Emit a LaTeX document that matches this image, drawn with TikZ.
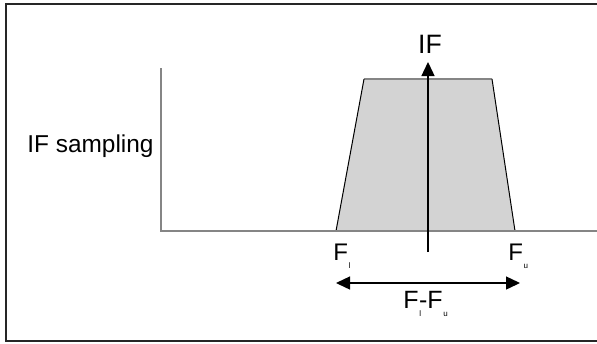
\documentclass[tikz,border=0pt]{standalone}
\usepackage{fontspec}
\setmainfont{Liberation Sans}
\usepackage{xcolor}
\definecolor{band}     {HTML}{D3D3D3}
\definecolor{axisgray} {HTML}{858585}
\usetikzlibrary{arrows.meta, positioning, calc}

\newcommand{\Fsub}[1]{F\kern0.3pt\raisebox{-4pt}{\fontsize{4}{4}\selectfont #1}}

\begin{document}
\begin{tikzpicture}[x=0.5pt, y=-0.5pt,
    axis/.style={draw=axisgray, line width=0.8pt},
    label/.style={inner sep=0pt, font=\fontsize{12}{12}\selectfont}]

    \useasboundingbox (0,0) rectangle (597,343);

    % --- Frame (right side cut off).
    \draw[line width=1pt, black!85] (600,4) -- (5.5,4) -- (5.5,340.5) -- (600,340.5);

    % --- Band of the IF signal.
    \coordinate (bl) at (336,231);
    \coordinate (tl) at (364,79);
    \coordinate (tr) at (492,79);
    \coordinate (br) at (515,231);
    \fill[band] (bl) -- (tl) -- (tr) -- (br) -- cycle;
    \draw[axisgray, line width=0.6pt] (tl) -- (tr);
    \draw[line width=0.5pt] (bl) -- (tl);
    \draw[line width=0.5pt] (tr) -- (br);

    % --- Axes.
    \coordinate (ytop) at (161,68);
    \coordinate (orig) at (161,231);
    \coordinate (xend) at (600,231);
    \draw[axis] (ytop) -- (orig) -- (xend);

    % --- Centre line at IF.
    \coordinate (cbot) at (428,252);
    \node[label, font=\fontsize{13.3}{13.3}\selectfont, anchor=base] (if) at (430,53) {IF};
    \coordinate (ctop) at (428,62);
    \draw[line width=0.7pt, -{Triangle[width=6.5pt, length=7pt]}] (cbot) -- (ctop);

    % --- Labels.
    \node[label, font=\fontsize{12.2}{12.2}\selectfont, anchor=base west] (ifs) at (27,152) {IF sampling};
    \node[label, anchor=base west] (fl) at (333,260) {\Fsub{l}};
    \node[label, anchor=base west] (fu) at (508,260) {\Fsub{u}};

    % --- Bandwidth arrow.
    \coordinate (bwl) at (336,283);
    \coordinate (bwr) at (520,283);
    \draw[line width=0.7pt, {Triangle[width=6.5pt, length=7pt]}-{Triangle[width=6.5pt, length=7pt]}] (bwl) -- (bwr);
    \node[label, font=\fontsize{12.5}{12.5}\selectfont, anchor=base west] (bw) at (403,308) {\Fsub{l}\kern-1pt-\Fsub{u}};
\end{tikzpicture}
\end{document}
